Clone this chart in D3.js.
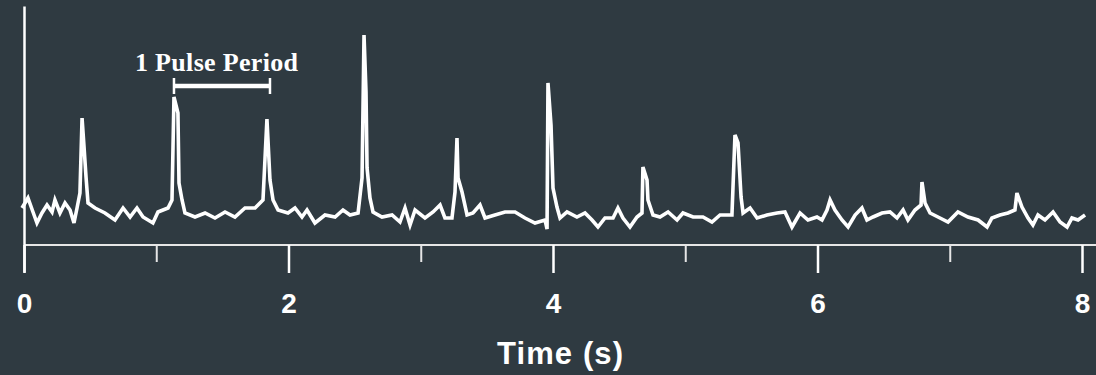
<!DOCTYPE html>
<html>
<head>
<meta charset="utf-8">
<script src="https://cdn.jsdelivr.net/npm/d3@7"></script>
<style>
  html, body { margin: 0; padding: 0; background: #2f3a41; }
  svg { display: block; }
</style>
</head>
<body>
<svg id="chart"></svg>
<script>
const width = 1096;
const height = 375;

// time (s)
const times = [
  -0.015, 0.030, 0.068, 0.098, 0.136, 0.174, 0.212, 0.234, 0.272, 0.310,
  0.348, 0.378, 0.401, 0.423, 0.439, 0.454, 0.469, 0.484, 0.537, 0.612,
  0.688, 0.749, 0.802, 0.854, 0.900, 0.975, 1.013, 1.089, 1.119, 1.134,
  1.164, 1.172, 1.195, 1.217, 1.293, 1.369, 1.444, 1.520, 1.595, 1.671,
  1.747, 1.807, 1.837, 1.860, 1.883, 1.921, 1.996, 2.049, 2.102, 2.140,
  2.200, 2.276, 2.352, 2.412, 2.465, 2.526, 2.556, 2.571, 2.586, 2.594,
  2.616, 2.639, 2.707, 2.783, 2.843, 2.881, 2.919, 2.957, 3.032, 3.093,
  3.146, 3.183, 3.236, 3.259, 3.274, 3.282, 3.312, 3.350, 3.395, 3.448,
  3.486, 3.561, 3.637, 3.713, 3.788, 3.864, 3.940, 3.955, 3.962, 3.985,
  4.000, 4.030, 4.053, 4.106, 4.181, 4.242, 4.295, 4.340, 4.393, 4.454,
  4.491, 4.529, 4.582, 4.635, 4.673, 4.680, 4.711, 4.718, 4.756, 4.809,
  4.870, 4.938, 4.983, 5.059, 5.134, 5.202, 5.263, 5.353, 5.376, 5.399,
  5.422, 5.437, 5.490, 5.543, 5.618, 5.694, 5.754, 5.807, 5.868, 5.928,
  5.996, 6.034, 6.072, 6.095, 6.132, 6.185, 6.231, 6.284, 6.336, 6.374,
  6.420, 6.488, 6.548, 6.601, 6.647, 6.684, 6.737, 6.783, 6.790, 6.813,
  6.851, 6.911, 6.987, 7.062, 7.138, 7.214, 7.282, 7.319, 7.380, 7.440,
  7.493, 7.508, 7.546, 7.592, 7.629, 7.667, 7.720, 7.781, 7.834, 7.887,
  7.924, 7.970, 8.023
];

// signal amplitude (arbitrary units)
const signal = [
  37, 47, 33, 22, 32, 40, 33, 45, 32, 42,
  35, 22, 37, 52, 127, 98, 68, 42, 37, 32,
  25, 37, 28, 37, 28, 22, 33, 37, 45, 148,
  132, 62, 45, 32, 28, 32, 27, 33, 28, 37,
  37, 45, 126, 65, 45, 35, 32, 37, 28, 35,
  22, 30, 28, 35, 30, 32, 67, 210, 153, 77,
  47, 33, 28, 30, 23, 37, 20, 35, 27, 33,
  40, 27, 27, 53, 107, 67, 53, 30, 32, 40,
  27, 30, 33, 33, 27, 22, 25, 16, 162, 120,
  57, 38, 27, 33, 28, 32, 25, 18, 27, 27,
  37, 27, 18, 28, 32, 78, 65, 45, 30, 28,
  33, 25, 32, 28, 28, 23, 30, 30, 110, 102,
  48, 32, 37, 27, 30, 32, 33, 18, 32, 25,
  28, 25, 35, 45, 35, 25, 18, 30, 37, 25,
  28, 32, 33, 27, 35, 25, 35, 40, 63, 42,
  32, 28, 23, 33, 28, 25, 18, 27, 30, 32,
  35, 52, 38, 27, 20, 30, 25, 33, 23, 18,
  27, 25, 30
];

const xTicksMajor = [0, 2, 4, 6, 8];
const xTicksMinor = [1, 3, 5, 7];

// pulse period bracket (s) and its level
const pulseStart = 1.134;
const pulseEnd = 1.86;
const pulseLevel = 159;
const pulseLabel = "1 Pulse Period";
const xLabel = "Time (s)";

const data = times.map((t, i) => ({ t: t, v: signal[i] }));

const svg = d3.select("#chart")
  .attr("width", width)
  .attr("height", height);

const x = d3.scaleLinear().domain([0, 8]).range([24, 1082]);
const y = d3.scaleLinear().domain([0, 240]).range([245, 5]);

const ink = "#ffffff";

// horizontal axis line
svg.append("line")
  .attr("x1", x(0)).attr("x2", width)
  .attr("y1", y(0)).attr("y2", y(0))
  .attr("stroke", "#e6e6e6")
  .attr("stroke-width", 2);

// minor ticks
svg.append("g")
  .attr("transform", `translate(0, ${y(0)})`)
  .call(d3.axisBottom(x).tickValues(xTicksMinor).tickSize(17).tickFormat(""))
  .call(g => g.select(".domain").remove())
  .call(g => g.selectAll(".tick line").attr("stroke", "#e6e6e6").attr("stroke-width", 2));

// major ticks with labels
svg.append("g")
  .attr("transform", `translate(0, ${y(0)})`)
  .call(d3.axisBottom(x).tickValues(xTicksMajor).tickSize(28).tickPadding(20).tickFormat(d3.format("d")))
  .call(g => g.select(".domain").remove())
  .call(g => g.selectAll(".tick line").attr("stroke", ink).attr("stroke-width", 2.5))
  .call(g => g.selectAll(".tick text")
    .attr("fill", ink)
    .attr("font-family", "'Liberation Sans', Arial, sans-serif")
    .attr("font-weight", "bold")
    .attr("font-size", 28));

// vertical axis line
svg.append("g")
  .attr("transform", `translate(${x(0)}, 0)`)
  .call(d3.axisLeft(y.copy().domain([-27, 239]).range([272, 6])).tickValues([]).tickSizeOuter(0))
  .call(g => g.select(".domain").attr("stroke", ink).attr("stroke-width", 2.5));

// signal trace
svg.append("path")
  .datum(data)
  .attr("fill", "none")
  .attr("stroke", ink)
  .attr("stroke-width", 3.6)
  .attr("stroke-linejoin", "miter")
  .attr("d", d3.line()
    .x(d => x(d.t))
    .y(d => y(d.v)));

// pulse period bracket
const bracket = svg.append("g").attr("stroke", ink);
bracket.append("line")
  .attr("x1", x(pulseStart)).attr("x2", x(pulseEnd))
  .attr("y1", y(pulseLevel)).attr("y2", y(pulseLevel))
  .attr("stroke-width", 4.5);
[pulseStart, pulseEnd].forEach(t => {
  bracket.append("line")
    .attr("x1", x(t)).attr("x2", x(t))
    .attr("y1", y(pulseLevel + 8)).attr("y2", y(pulseLevel - 8))
    .attr("stroke-width", 2.5);
});

svg.append("text")
  .attr("x", 216.5)
  .attr("y", 71)
  .attr("text-anchor", "middle")
  .attr("fill", ink)
  .attr("font-family", "'Liberation Serif', 'Times New Roman', serif")
  .attr("font-weight", "bold")
  .attr("font-size", 26)
  .attr("textLength", 163)
  .attr("lengthAdjust", "spacing")
  .text(pulseLabel);

// x axis title
svg.append("text")
  .attr("x", 560)
  .attr("y", 364)
  .attr("text-anchor", "middle")
  .attr("fill", ink)
  .attr("font-family", "'Liberation Sans', Arial, sans-serif")
  .attr("font-weight", "bold")
  .attr("font-size", 31)
  .attr("textLength", 126)
  .attr("lengthAdjust", "spacing")
  .text(xLabel);
</script>
</body>
</html>
